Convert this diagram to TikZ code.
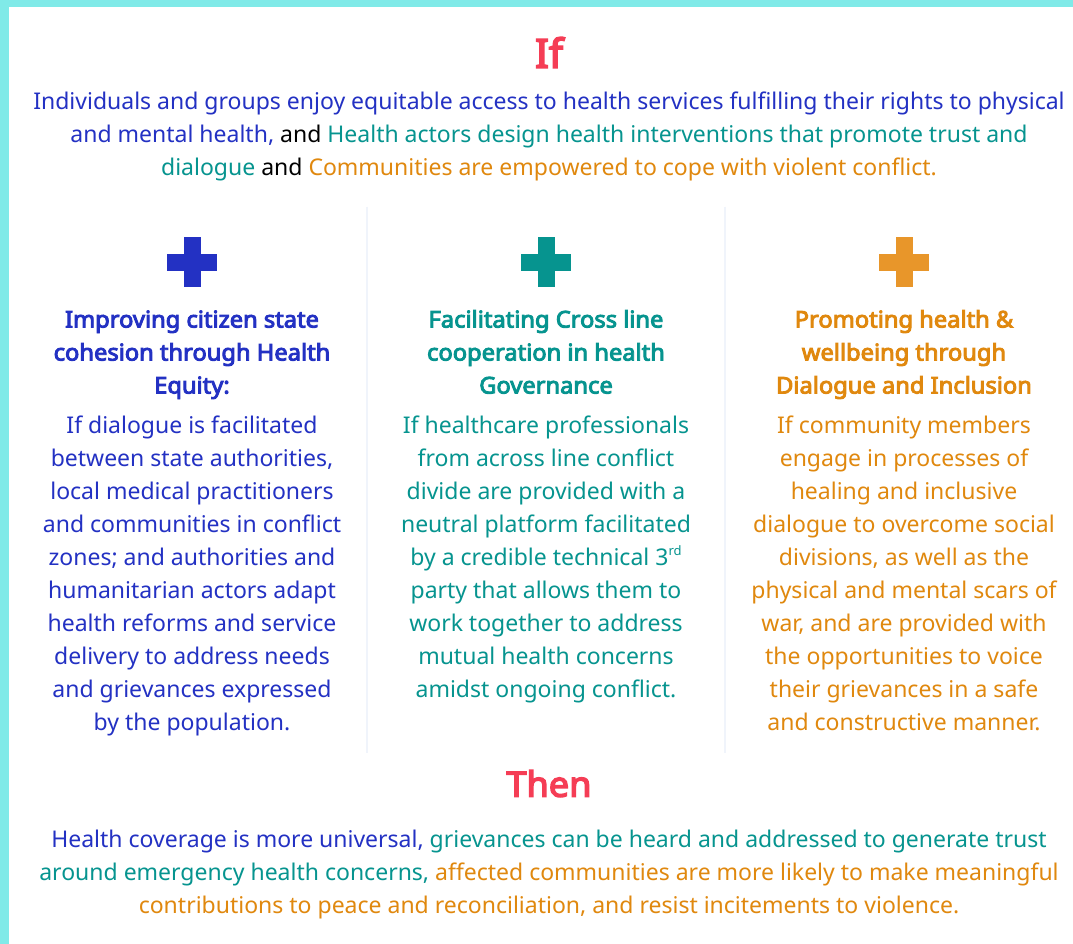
\documentclass[tikz,border=0pt]{standalone}
\usepackage{fontspec}
\setmainfont{Noto Sans}
\newfontfamily\hfont{Noto Sans}[FakeBold=4,FakeStretch=1.03]
\definecolor{cblue}{HTML}{2331C3}
\definecolor{cteal}{HTML}{06948F}
\definecolor{corange}{HTML}{E0880E}
\definecolor{crossor}{HTML}{E8962A}
\definecolor{cred}{HTML}{F53D55}
\definecolor{cborder}{HTML}{80EAE8}
\definecolor{cdiv}{HTML}{F0F4FB}
\tikzset{
  title/.style={font=\hfont\fontsize{40}{44}\selectfont, text=cred, anchor=base, inner sep=0pt},
  body/.style={font=\fontsize{23}{33}\selectfont, align=center, anchor=base, inner sep=0pt},
  head/.style={font=\hfont\fontsize{23}{33}\selectfont, align=center, anchor=base, inner sep=0pt},
  divline/.style={draw=cdiv, line width=2pt},
}
\newcommand{\crossat}[3]{%
  \fill[#3] (#1-25,#2-8.5) rectangle (#1+25,#2+8.5);
  \fill[#3] (#1-8.5,#2-25) rectangle (#1+8.5,#2+25);
}
\newcommand{\supsm}[1]{\raisebox{0.42em}{\fontsize{13}{13}\selectfont #1}}
\begin{document}
\begin{tikzpicture}[x=1pt,y=-1pt]
\useasboundingbox (0,0) rectangle (1073,944);
\fill[white] (0,0) rectangle (1073,944);
\fill[cborder] (0,0) rectangle (1073,7.5);
\fill[cborder] (0,0) rectangle (8.7,944);

\node[title] (if) at (549,67.7) {If};
\node[body] (top) at (549,175.3) {{\color{cblue}Individuals and groups enjoy equitable access to health services fulfilling their rights to physical}\\
{\color{cblue}and mental health,} and {\color{cteal}Health actors design health interventions that promote trust and}\\
{\color{cteal}dialogue} and {\color{corange}Communities are empowered to cope with violent conflict.}};

\coordinate (d1t) at (367,207);
\coordinate (d1b) at (367,753);
\coordinate (d2t) at (725,207);
\coordinate (d2b) at (725,753);
\draw[divline] (d1t) -- (d1b);
\draw[divline] (d2t) -- (d2b);

\crossat{192}{262}{cblue}
\crossat{546}{262}{cteal}
\crossat{904}{262}{crossor}

\node[head, text=cblue] (h1) at (192,393.5) {Improving citizen state\\cohesion through Health\\Equity:};
\node[head, text=cteal] (h2) at (546,393.5) {Facilitating Cross line\\cooperation in health\\Governance};
\node[head, text=corange] (h3) at (904,393.5) {Promoting health \&\\wellbeing through\\Dialogue and Inclusion};

\node[body, text=cblue] (b1) at (192,730.5) {If dialogue is facilitated\\between state authorities,\\local medical practitioners\\and communities in conflict\\zones; and authorities and\\humanitarian actors adapt\\health reforms and service\\delivery to address needs\\and grievances expressed\\by the population.};
\node[body, text=cteal] (b2) at (546,697.5) {If healthcare professionals\\from across line conflict\\divide are provided with a\\neutral platform facilitated\\by a credible technical 3\supsm{rd}\\party that allows them to\\work together to address\\mutual health concerns\\amidst ongoing conflict.};
\node[body, text=corange] (b3) at (904,730.5) {If community members\\engage in processes of\\healing and inclusive\\dialogue to overcome social\\divisions, as well as the\\physical and mental scars of\\war, and are provided with\\the opportunities to voice\\their grievances in a safe\\and constructive manner.};

\node[title, font=\hfont\fontsize{35}{40}\selectfont] (then) at (549,796.7) {Then};
\node[body] (bot) at (549,913.3) {{\color{cblue}Health coverage is more universal,} {\color{cteal}grievances can be heard and addressed to generate trust}\\
{\color{cteal}around emergency health concerns,} {\color{corange}affected communities are more likely to make meaningful}\\
{\color{corange}contributions to peace and reconciliation, and resist incitements to violence.}};
\end{tikzpicture}
\end{document}
